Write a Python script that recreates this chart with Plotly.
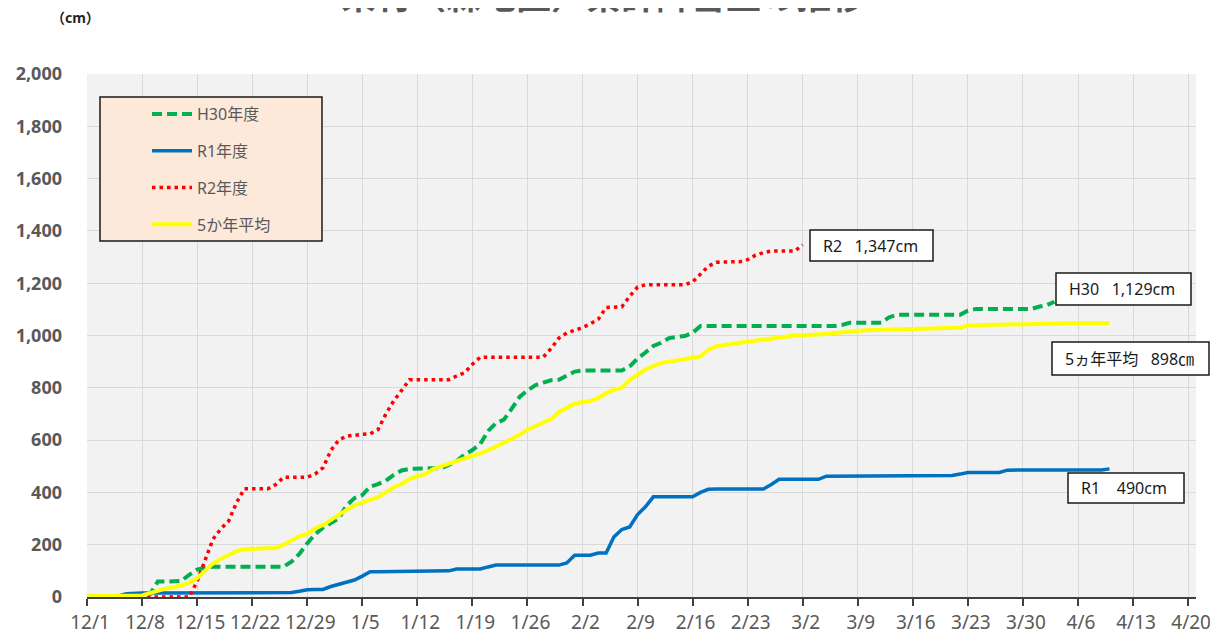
import plotly.graph_objects as go
import pandas as pd

# ---------------- data ----------------
START_DATE = "2020-12-01"

series_names = ["H30年度", "R1年度", "R2年度", "5か年平均"]

# daily cumulative snowfall (cm), starting 12/1
h30_values = [
    0, 0, 0, 0, 0, 0, 0, 0, 10, 59, 59, 60, 62, 85, 105, 112,
    116, 116, 116, 116, 116, 116, 116, 116, 116, 116,
    135, 165, 205, 240, 265, 282, 300, 350, 378, 390, 422, 432, 445, 467, 484, 490,
    492, 492, 492, 492, 505, 520, 545, 562, 585, 635, 665, 678, 720, 765, 790, 810,
    820, 829, 831, 845, 862, 866, 866, 866, 866, 866, 866, 882, 912, 935, 960, 972,
    990, 995, 998, 1010, 1036, 1036, 1036, 1036, 1036, 1036, 1036, 1036, 1036, 1036,
    1036, 1036, 1036, 1036, 1036, 1036, 1036, 1036, 1040, 1049, 1049, 1049, 1049, 1049,
    1070, 1079, 1079, 1079, 1079, 1079, 1079, 1079, 1079, 1079, 1095, 1101, 1101, 1101,
    1101, 1101, 1101, 1101, 1101, 1110, 1116, 1129,
]

r1_values = [
    2, 2, 2, 2, 4, 12, 15, 15, 15, 15, 15, 15, 15, 15, 15, 15, 15, 15, 15, 15, 15,
    17, 17, 17, 17, 17, 17, 22, 28, 29, 29, 40, 48, 55, 65, 80, 97,
    97, 97, 97, 97, 97, 97, 97, 97, 97, 100, 107, 107, 107, 107, 115, 122,
    122, 122, 122, 122, 122, 122, 122, 122, 130, 160, 160, 160, 168, 168, 230, 258,
    268, 315, 345, 383, 383, 383, 383, 383, 383, 400, 412, 413, 413, 413, 413, 413,
    413, 413, 430, 450, 450, 450, 450, 450, 450, 462, 462, 462, 462, 462, 462, 462,
    462, 462, 465, 465, 465, 465, 465, 465, 465, 465, 470, 476, 476, 476, 476, 476,
    485, 486, 486, 486, 486, 486, 486, 486, 486, 486, 486, 486, 486, 490,
]

r2_values = [
    0, 0, 0, 0, 0, 0, 0, 0, 0, 0, 0, 0, 0, 0, 60, 140, 220, 260, 290, 360, 414,
    414, 414, 414, 430, 458, 458, 458, 458, 470, 494, 560, 600, 615, 620, 622, 624,
    640, 700, 750, 790, 831, 831, 831, 831, 831, 831, 845, 857, 890, 917, 917, 917,
    917, 917, 917, 917, 917, 917, 950, 990, 1010, 1019, 1030, 1045, 1062, 1107, 1108,
    1110, 1150, 1185, 1194, 1194, 1194, 1194, 1194, 1194, 1205, 1235, 1265, 1280,
    1282, 1282, 1282, 1290, 1307, 1317, 1323, 1323, 1323, 1323, 1347,
]

avg5_values = [
    3, 3, 3, 3, 3, 3, 3, 6, 15, 25, 32, 37, 44, 55, 72, 100, 128, 145, 158, 175, 183,
    184, 184, 185, 187, 200, 218, 232, 241, 262, 275, 295, 315, 333, 350, 360, 372,
    382, 400, 420, 432, 451, 462, 470, 489, 500, 508, 518, 530, 540, 548, 560, 575,
    590, 603, 620, 640, 652, 665, 680, 708, 725, 739, 745, 750, 760, 780, 792, 800,
    830, 852, 870, 883, 895, 900, 904, 908, 915, 920, 945, 959, 962, 968, 972, 976,
    983, 986, 988, 992, 996, 1000, 1001, 1002, 1004, 1006, 1010, 1013, 1016, 1018,
    1020, 1021, 1022, 1023, 1024, 1025, 1026, 1027, 1028, 1028, 1029, 1029, 1030,
    1038, 1040, 1040, 1041, 1041, 1042, 1043, 1044, 1045, 1046, 1046, 1047, 1047,
    1047, 1048, 1048, 1048, 1048, 1048,
]

tick_labels = ["12/1", "12/8", "12/15", "12/22", "12/29", "1/5", "1/12", "1/19",
               "1/26", "2/2", "2/9", "2/16", "2/23", "3/2", "3/9", "3/16", "3/23",
               "3/30", "4/6", "4/13", "4/20"]
y_tick_values = [0, 200, 400, 600, 800, 1000, 1200, 1400, 1600, 1800, 2000]

title_text = "栄村（森地区）累計降雪量の推移"
unit_text = "（cm）"
end_labels = ["R2\u00a0\u00a0\u00a01,347cm", "H30\u00a0\u00a0\u00a01,129cm",
              "5ヵ年平均\u00a0\u00a0\u00a0898㎝", "R1\u00a0\u00a0\u00a0\u00a0490cm"]

# ---------------- layout geometry (page pixels) ----------------
OFF = 8                                # page body margin
W, H = 1218 - 2 * OFF, 644 - 2 * OFF   # figure size so the page is exactly the window
PL, PR, PT, PB = 87, 1196, 74, 597     # plot area in page pixels
ML, MR, MT, MB = PL - OFF, (OFF + W) - PR, PT - OFF, (OFF + H) - PB
PW, PH = PR - PL, PB - PT

def px2x(px):
    return (px - PL) / PW

def py2y(py):
    return (PB - py) / PH

FONT = "Noto Sans, Noto Sans CJK JP, sans-serif"
GREY = "#595959"

def dates_for(vals):
    return pd.date_range(START_DATE, periods=len(vals), freq="D")

fig = go.Figure()
styles = [
    dict(color="#00b050", width=4, dash="10px,5px"),
    dict(color="#0070c0", width=3.5),
    dict(color="#ff0000", width=3.5, dash="3.5px,4px"),
    dict(color="#ffff00", width=4),
]
for i, (name, vals) in enumerate(zip(series_names, [h30_values, r1_values, r2_values, avg5_values])):
    fig.add_trace(go.Scatter(
        x=dates_for(vals), y=vals, name=name, mode="lines",
        line=styles[i], legendgroup=f"g{i}", hoverinfo="skip",
    ))

tick_dates = pd.date_range(START_DATE, periods=len(tick_labels), freq="7D")

fig.update_layout(
    width=W, height=H, autosize=False,
    margin=dict(l=ML, r=MR, t=MT, b=MB, pad=0, autoexpand=False),
    paper_bgcolor="white", plot_bgcolor="#f2f2f2",
    font=dict(family=FONT, color=GREY),
    showlegend=True,
    legend=dict(
        x=px2x(147), y=py2y(97), xanchor="left", yanchor="top",
        bgcolor="rgba(0,0,0,0)", borderwidth=0,
        font=dict(size=16, color=GREY, family=FONT),
        tracegroupgap=13, itemwidth=40,
    ),
    xaxis=dict(
        type="date", range=["2020-12-01", "2021-04-21"],
        tickmode="array", tickvals=tick_dates, ticktext=tick_labels,
        showgrid=True, gridcolor="#d9d9d9", gridwidth=1,
        showline=True, linecolor="#404040", linewidth=1.5,
        ticks="outside", ticklen=7, tickwidth=1.5, tickcolor="#404040",
        tickfont=dict(size=19, color=GREY, family=FONT),
        ticklabelstandoff=0, ticklabelshift=3, ticklabeloverflow="allow",
        zeroline=False, automargin=False,
    ),
    yaxis=dict(
        range=[0, 2000], tickmode="array", tickvals=y_tick_values,
        tickformat=",", showgrid=True, gridcolor="#d9d9d9", gridwidth=1,
        showline=False, zeroline=False, ticks="",
        tickfont=dict(size=18, color=GREY, family=FONT, weight="bold"),
        ticklabelstandoff=24, automargin=False,
    ),
)

# legend background box
fig.add_shape(type="rect", xref="paper", yref="paper",
              x0=px2x(100), x1=px2x(322), y0=py2y(241), y1=py2y(97),
              fillcolor="#fde9d9", line=dict(color="#1a1a1a", width=1.5), layer="above")

# end-value label boxes (left, top, right, bottom in page px)
boxes = [(810, 230, 933, 261), (1056, 273, 1191, 305), (1052, 342, 1209, 375), (1068, 473, 1184, 503)]
for (l, t, r, b), txt in zip(boxes, end_labels):
    fig.add_shape(type="rect", xref="paper", yref="paper",
                  x0=px2x(l), x1=px2x(r), y0=py2y(b), y1=py2y(t),
                  fillcolor="white", line=dict(color="#1a1a1a", width=1.5), layer="above")
    fig.add_annotation(xref="paper", yref="paper", x=px2x(l + 11), y=py2y((t + b) / 2),
                       xanchor="left", yanchor="middle", text=txt, showarrow=False,
                       font=dict(size=16, color="#1a1a1a", family=FONT))

fig.add_annotation(xref="paper", yref="paper", x=px2x(603), y=py2y(-5),
                   xanchor="center", yanchor="middle", text=title_text, showarrow=False,
                   font=dict(size=35, color=GREY, family=FONT, weight="bold"))
fig.add_annotation(xref="paper", yref="paper", x=px2x(75), y=py2y(17),
                   xanchor="center", yanchor="middle", text=unit_text, showarrow=False,
                   font=dict(size=14, color="#262626", family=FONT, weight="bold"))

fig.write_html("out.html")
